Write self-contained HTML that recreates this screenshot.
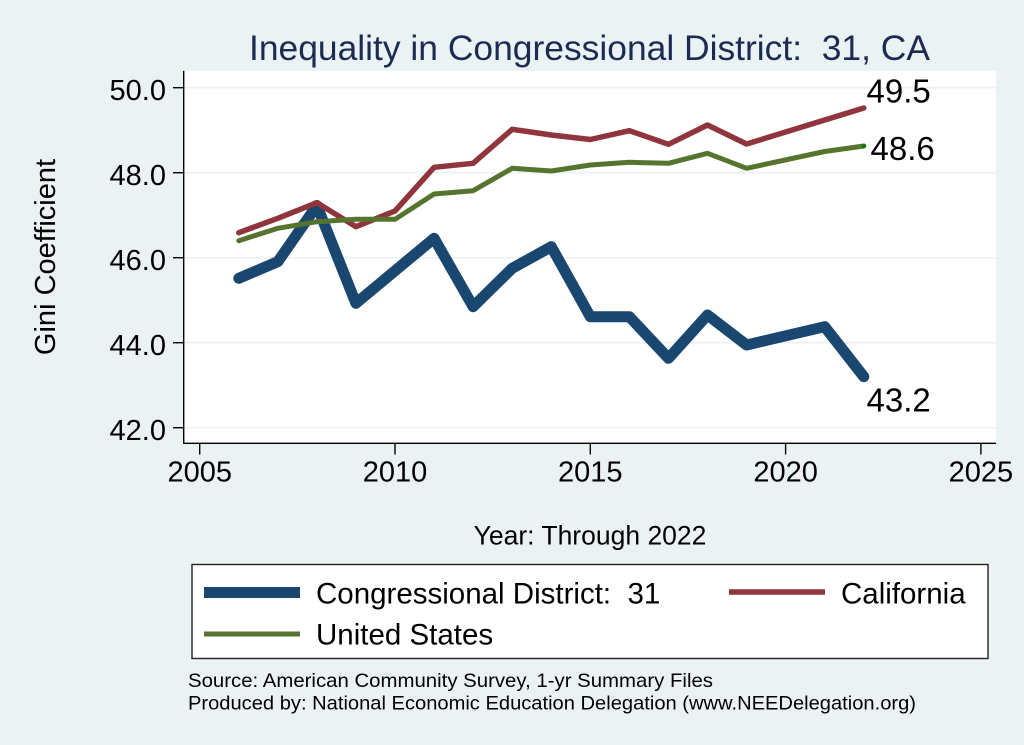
<!DOCTYPE html>
<html>
<head>
<meta charset="utf-8">
<style>
  html, body { margin: 0; padding: 0; background: #EAF2F3; }
  svg { display: block; }
  text { font-family: "Liberation Sans", Arial, sans-serif; white-space: pre; }
</style>
</head>
<body>
<svg width="1024" height="745" viewBox="0 0 1024 745" xmlns="http://www.w3.org/2000/svg">
  <rect x="0" y="0" width="1024" height="745" fill="#EAF2F3"/>

  <!-- Title -->
  <text x="249" y="60" font-size="35" fill="#1c2b52" textLength="681" lengthAdjust="spacingAndGlyphs">Inequality in Congressional District:  31, CA</text>

  <!-- Plot region -->
  <rect x="183.5" y="70.7" width="812.5" height="372.8" fill="#FFFFFF"/>

  <!-- Gridlines -->
  <g stroke="#EAF2F3" stroke-width="1.6">
    <line x1="184" y1="87.7" x2="996" y2="87.7"/>
    <line x1="184" y1="172.7" x2="996" y2="172.7"/>
    <line x1="184" y1="257.7" x2="996" y2="257.7"/>
    <line x1="184" y1="342.7" x2="996" y2="342.7"/>
    <line x1="184" y1="427.7" x2="996" y2="427.7"/>
  </g>

  <!-- Axes -->
  <g stroke="#000" stroke-width="1.4">
    <line x1="183.7" y1="70.7" x2="183.7" y2="443.8"/>
    <line x1="183" y1="443.3" x2="996" y2="443.3"/>
    <!-- y ticks -->
    <line x1="173" y1="87.7" x2="183.7" y2="87.7"/>
    <line x1="173" y1="172.7" x2="183.7" y2="172.7"/>
    <line x1="173" y1="257.7" x2="183.7" y2="257.7"/>
    <line x1="173" y1="342.7" x2="183.7" y2="342.7"/>
    <line x1="173" y1="427.7" x2="183.7" y2="427.7"/>
    <!-- x ticks -->
    <line x1="199.7" y1="443.3" x2="199.7" y2="454.5"/>
    <line x1="395" y1="443.3" x2="395" y2="454.5"/>
    <line x1="590.3" y1="443.3" x2="590.3" y2="454.5"/>
    <line x1="785.6" y1="443.3" x2="785.6" y2="454.5"/>
    <line x1="980.9" y1="443.3" x2="980.9" y2="454.5"/>
  </g>

  <!-- Y tick labels -->
  <g font-size="29" fill="#000" text-anchor="end">
    <text x="166" y="100.2">50.0</text>
    <text x="166" y="185.2">48.0</text>
    <text x="166" y="270.2">46.0</text>
    <text x="166" y="355.2">44.0</text>
    <text x="166" y="440.2">42.0</text>
  </g>

  <!-- X tick labels -->
  <g font-size="29" fill="#000" text-anchor="middle">
    <text x="199.7" y="481.7">2005</text>
    <text x="395" y="481.7">2010</text>
    <text x="590.3" y="481.7">2015</text>
    <text x="785.6" y="481.7">2020</text>
    <text x="980.9" y="481.7">2025</text>
  </g>

  <!-- Axis titles -->
  <text x="55" y="257" font-size="29" fill="#000" text-anchor="middle" transform="rotate(-90 55 257)">Gini Coefficient</text>
  <text x="590" y="544.5" font-size="26.5" fill="#000" text-anchor="middle">Year: Through 2022</text>

  <!-- Series -->
  <g fill="none" stroke-linejoin="round" stroke-linecap="round">
    <polyline stroke="#1a476f" stroke-width="11"
      points="238.8,278.3 277.8,261.7 316.9,205.5 355.9,303.3 395.0,270.8 434.1,238.3 473.1,306.7 512.2,268.3 551.3,246.7 590.3,316.7 629.4,316.7 668.5,358.3 707.5,315 746.6,345 824.7,326.7 863.8,376.7"/>
    <polyline stroke="#90353b" stroke-width="5.5"
      points="238.8,232.7 277.8,218.3 316.9,202.7 355.9,226.7 395.0,211 434.1,167.3 473.1,163.3 512.2,129.3 551.3,135 590.3,139.5 629.4,130.7 668.5,144.3 707.5,125 746.6,144 824.7,120 863.8,108"/>
    <polyline stroke="#55752f" stroke-width="5"
      points="238.8,240.7 277.8,228.3 316.9,221.7 355.9,219.3 395.0,219.3 434.1,194 473.1,190.7 512.2,168.3 551.3,171 590.3,165 629.4,162.3 668.5,163.3 707.5,153.3 746.6,168.3 824.7,151.5 863.8,146"/>
  </g>
  <circle cx="863.8" cy="146" r="2.2" fill="#008000"/>

  <!-- End labels -->
  <g font-size="33" fill="#000">
    <text x="866.5" y="102.7">49.5</text>
    <text x="870.5" y="160">48.6</text>
    <text x="866.5" y="411.7">43.2</text>
  </g>

  <!-- Legend -->
  <rect x="192" y="564.5" width="796" height="94" fill="#FFFFFF" stroke="#222" stroke-width="1.4"/>
  <line x1="204" y1="592.5" x2="300" y2="592.5" stroke="#1a476f" stroke-width="11"/>
  <line x1="729" y1="592" x2="825" y2="592" stroke="#90353b" stroke-width="5.5"/>
  <line x1="204" y1="634" x2="300" y2="634" stroke="#55752f" stroke-width="5"/>
  <g font-size="29.5" fill="#000">
    <text x="316" y="603.5">Congressional District:  31</text>
    <text x="841" y="603.5">California</text>
    <text x="316" y="644.5">United States</text>
  </g>

  <!-- Footer -->
  <g font-size="19.5" fill="#000">
    <text x="188" y="687" textLength="525" lengthAdjust="spacingAndGlyphs">Source: American Community Survey, 1-yr Summary Files</text>
    <text x="188" y="709.5" textLength="728" lengthAdjust="spacingAndGlyphs">Produced by: National Economic Education Delegation (www.NEEDelegation.org)</text>
  </g>
</svg>
</body>
</html>
